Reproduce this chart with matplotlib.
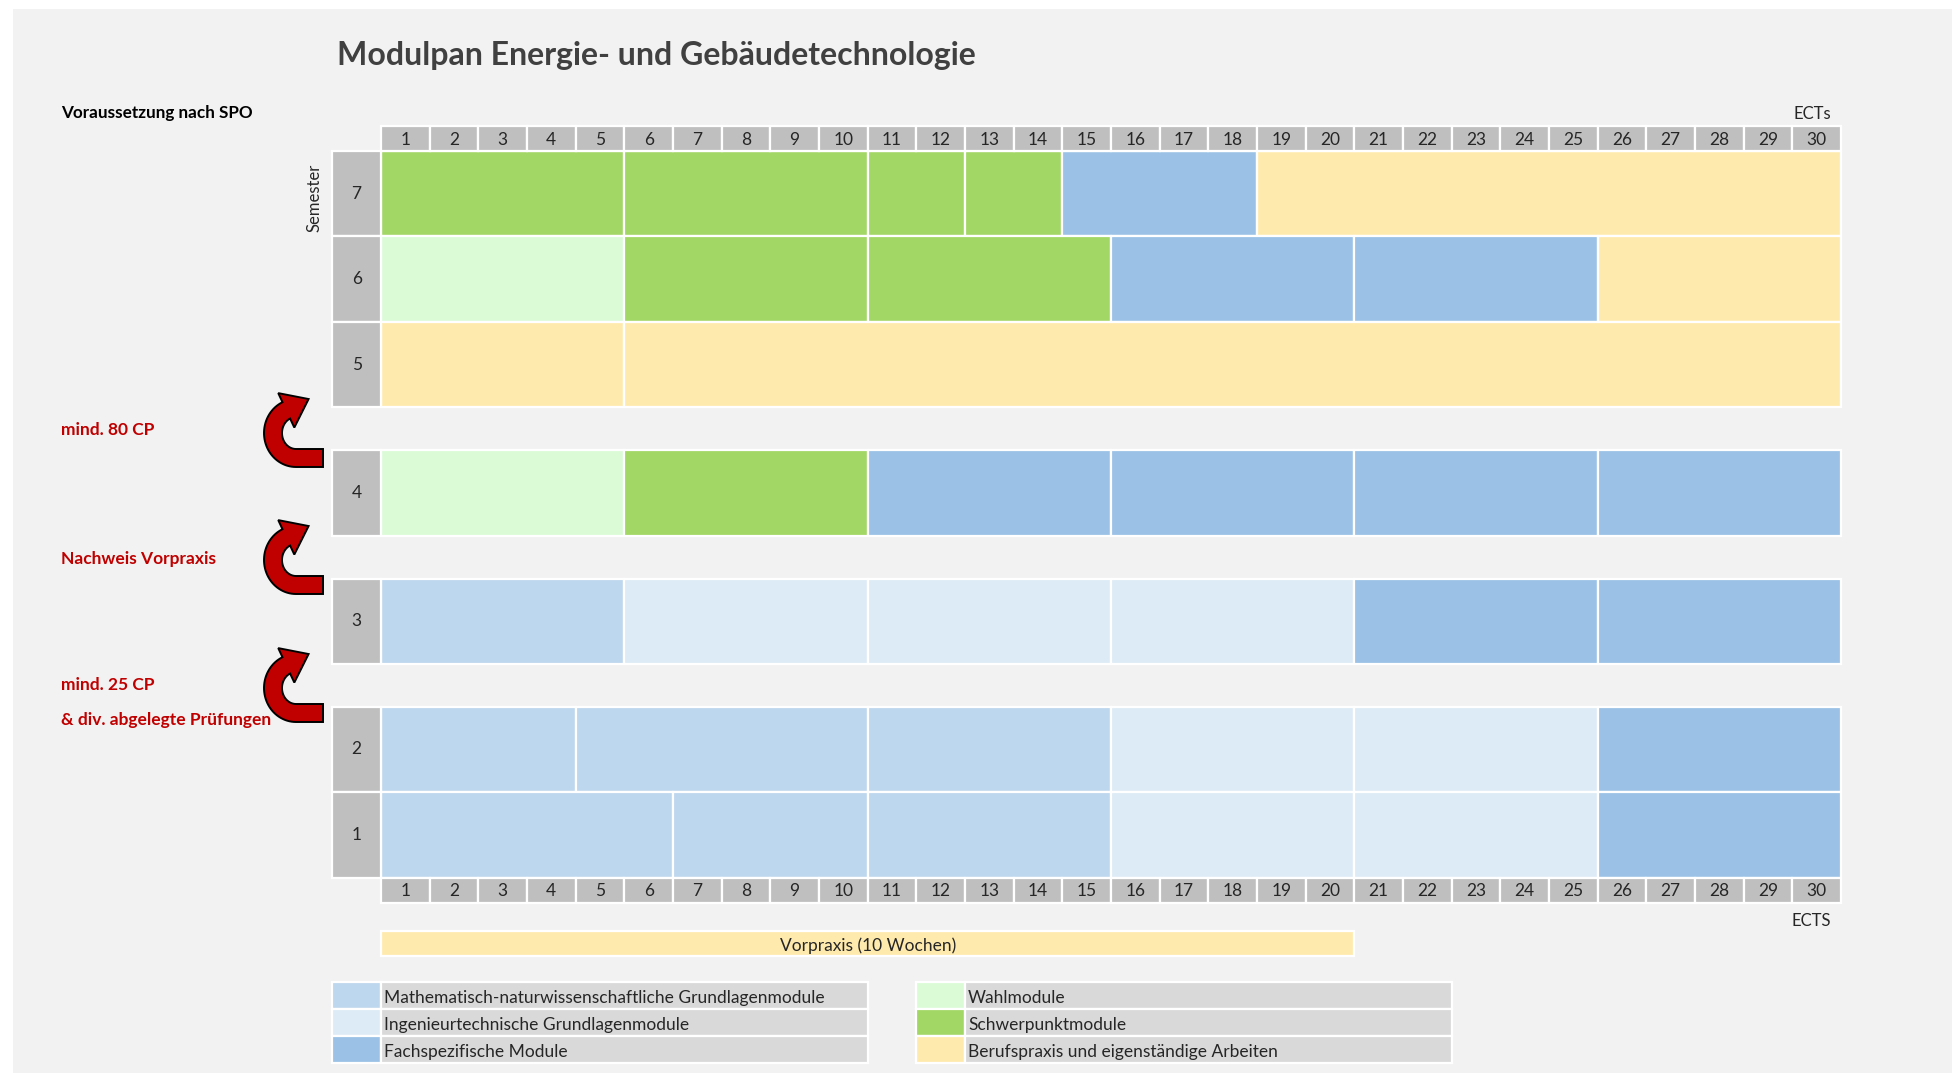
import numpy as np
import matplotlib.pyplot as plt
from matplotlib.patches import Polygon, Rectangle

plt.rcParams['font.family'] = ['Lato', 'DejaVu Sans']

#=======================================================
# Data
#=======================================================

cat_keys = ['M', 'I', 'F', 'W', 'S', 'B']
cat_names = ['Mathematisch-naturwissenschaftliche Grundlagenmodule',
             'Ingenieurtechnische Grundlagenmodule',
             'Fachspezifische Module',
             'Wahlmodule',
             'Schwerpunktmodule',
             'Berufspraxis und eigenständige Arbeiten']
cat_colors = ['#BDD7EE', '#DDEBF7', '#9BC2E6', '#DAFBD6', '#A2D665', '#FFEAAD']

semesters = [7, 6, 5, 4, 3, 2, 1]

# ECTS per module and its category, per semester
ects_7 = [5, 5, 2, 2, 4, 12]
cats_7 = ['S', 'S', 'S', 'S', 'F', 'B']
ects_6 = [5, 5, 5, 5, 5, 5]
cats_6 = ['W', 'S', 'S', 'F', 'F', 'B']
ects_5 = [5, 25]
cats_5 = ['B', 'B']
ects_4 = [5, 5, 5, 5, 5, 5]
cats_4 = ['W', 'S', 'F', 'F', 'F', 'F']
ects_3 = [5, 5, 5, 5, 5, 5]
cats_3 = ['M', 'I', 'I', 'I', 'F', 'F']
ects_2 = [4, 6, 5, 5, 5, 5]
cats_2 = ['M', 'M', 'M', 'I', 'I', 'F']
ects_1 = [6, 4, 5, 5, 5, 5]
cats_1 = ['M', 'M', 'M', 'I', 'I', 'F']

sem_ects = [ects_7, ects_6, ects_5, ects_4, ects_3, ects_2, ects_1]
sem_cats = [cats_7, cats_6, cats_5, cats_4, cats_3, cats_2, cats_1]

ects_ticks = np.arange(1, 31)
vorpraxis_ects = 20
vorpraxis_label = 'Vorpraxis (10 Wochen)'

conditions = ['mind. 80 CP', 'Nachweis Vorpraxis', 'mind. 25 CP']
condition_extra = '& div. abgelegte Prüfungen'

#=======================================================
# Layout (pixels of the 1957x1073 picture)
#=======================================================

W, H = 1957, 1073
X0, CW = 381, 1460 / 30      # left edge of ECTS 0, width of one ECTS
Y0, RH = 151, 85.5           # top of semester 7, row height
row_top = [0, 1, 2, 3.5, 5, 6.5, 7.5]   # in row units, gaps between 5/4, 4/3, 3/2

color_of = dict(zip(cat_keys, cat_colors))
grey = '#BFBFBF'
red = '#C00000'
txt = '#262626'
fs = 12.5

fig = plt.figure(figsize=(W / 100, H / 100), dpi=100)
fig.patch.set_facecolor('white')

bg = fig.add_axes([0, 0, 1, 1])
bg.set_xlim(0, W)
bg.set_ylim(H, 0)
bg.axis('off')
bg.add_patch(Rectangle((13, 9), W - 18, H - 9, color='#F2F2F2', lw=0))

# main axes: x in ECTS, y in row units (downwards)
ax = fig.add_axes([0, 0, 1, 1])
ax.set_facecolor('none')
ax.set_xlim(-X0 / CW, (W - X0) / CW)
ax.set_ylim((H - Y0) / RH, -Y0 / RH)
ax.axis('off')

# overlay axes in pixels, for texts and arrows
ov = fig.add_axes([0, 0, 1, 1])
ov.set_facecolor('none')
ov.set_xlim(0, W)
ov.set_ylim(H, 0)
ov.axis('off')

#=======================================================
# Grid of modules
#=======================================================

for sem, top, widths, cats in zip(semesters, row_top, sem_ects, sem_cats):
    starts = np.concatenate([[0], np.cumsum(widths)[:-1]])
    ax.barh(top, widths, left=starts, height=1, align='edge',
            color=[color_of[c] for c in cats], edgecolor='white', linewidth=1.6)
    ax.barh(top, 1, left=-1, height=1, align='edge', color=grey,
            edgecolor='white', linewidth=1.6)
    ax.text(-0.5, top + 0.5, str(sem), ha='center', va='center',
            fontsize=fs, color=txt)

ax.text(-1.36, 0.55, 'Semester', rotation=90, ha='center', va='center',
        fontsize=12, color=txt)

# ECTS header rows
for bottom in [-0.29, 8.5]:
    ax.bar(ects_ticks - 1, 0.29, bottom=bottom, width=1, align='edge',
           color=grey, edgecolor='white', linewidth=1.6)
    for e in ects_ticks:
        ax.text(e - 0.5, bottom + 0.16, str(e), ha='center', va='center',
                fontsize=fs, color=txt)

ax.text(29.8, -0.43, 'ECTs', ha='right', va='center', fontsize=12, color=txt)
ax.text(29.8, 9.0, 'ECTS', ha='right', va='center', fontsize=12, color=txt)

# Vorpraxis bar
ax.barh(9.12, vorpraxis_ects, left=0, height=0.3, align='edge',
        color=color_of['B'], edgecolor='white', linewidth=1.6)
ax.text(vorpraxis_ects / 2, 9.29, vorpraxis_label, ha='center', va='center',
        fontsize=fs, color=txt)

#=======================================================
# Legend (on the ECTS grid: swatch one column, label ten columns)
#=======================================================

leg_left = [-1, 11]
leg_top = [9.72, 10.035, 10.35]
leg_h = 0.315
for i, (name, col) in enumerate(zip(cat_names, cat_colors)):
    x = leg_left[i // 3]
    y = leg_top[i % 3]
    ax.barh(y, 1, left=x, height=leg_h, align='edge', color=col,
            edgecolor='white', linewidth=1.6)
    ax.barh(y, 10, left=x + 1, height=leg_h, align='edge', color='#D9D9D9',
            edgecolor='white', linewidth=1.6)
    ax.text(x + 1.06, y + leg_h / 2 + 0.025, name, ha='left', va='center',
            fontsize=fs, color=txt)

#=======================================================
# Texts and arrows
#=======================================================

ov.text(337, 56, 'Modulpan Energie- und Gebäudetechnologie', ha='left',
        va='center', fontsize=23, fontweight='bold', color='#404040')
ov.text(61, 113, 'Voraussetzung nach SPO', ha='left', va='center',
        fontsize=12.3, fontweight='bold', color='black')

cond_y = [430, 559, 685]
for label, y in zip(conditions, cond_y):
    ov.text(61, y, label, ha='left', va='center', fontsize=12.5,
            fontweight='bold', color=red)
ov.text(61, 720, condition_extra, ha='left', va='center', fontsize=12.5,
        fontweight='bold', color=red)


def uturn(ax, right, bottom):
    '''
    Draw a curved "C" arrow with its bar ending at right/bottom (pixels)
    '''
    w, rx, ry = 9, 23, 25
    cx, cy = right - 27, bottom - w - ry
    th = np.radians(np.linspace(90, 245, 40))
    outer = np.c_[cx + (rx + w) * np.cos(th), cy + (ry + w) * np.sin(th)]
    inner = np.c_[cx + (rx - w) * np.cos(th), cy + (ry - w) * np.sin(th)]
    te = th[-1]
    p = np.array([cx + rx * np.cos(te), cy + ry * np.sin(te)])
    t = np.array([-rx * np.sin(te), ry * np.cos(te)])
    t /= np.linalg.norm(t)
    n = np.array([np.cos(te), np.sin(te)])
    head = [p + n * 19, p + t * 25, p - n * 19]
    pts = np.vstack([[[right, bottom]], outer, [head[0]], [head[1]],
                     [head[2]], inner[::-1], [[right, bottom - 2 * w]]])
    ax.add_patch(Polygon(pts, closed=True, facecolor=red, edgecolor='black',
                         linewidth=1.4, joinstyle='miter'))


for y in [467, 594, 722]:
    uturn(ov, 323, y)

fig.savefig('out.png', dpi=100, facecolor=fig.get_facecolor())
